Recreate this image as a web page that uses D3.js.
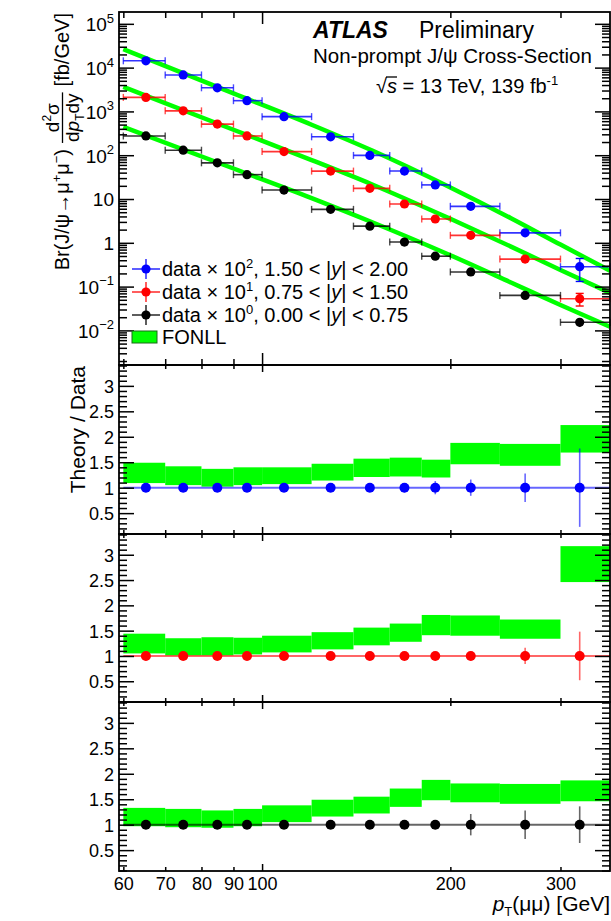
<!DOCTYPE html>
<html>
<head>
<meta charset="utf-8">
<script src="https://cdn.jsdelivr.net/npm/d3@7"></script>
<style>
  body { margin: 0; background: #fff; }
  svg { font-family: "Liberation Sans", Arial, Helvetica, sans-serif; }
</style>
</head>
<body>
<div id="chart"></div>
<script>
// ---- data ----
const binEdges = [60, 70, 80, 90, 100, 120, 140, 160, 180, 200, 240, 300, 360];
const ptMean = [65.2, 74.8, 84.8, 94.6, 108.4, 128.7, 148.7, 168.9, 189.2, 215.6, 263.4, 322];

// cross-sections (already multiplied by 10^2, 10^1, 10^0)
const xsecForward = [14300, 6800, 3460, 1760, 760, 263, 99, 43.5, 21, 6.8, 1.69, 0.285];
const xsecCentral = [2090, 1030, 513, 275, 121, 43.4, 17.5, 7.7, 3.5, 1.48, 0.425, 0.053];
const xsecBarrel  = [275, 130, 67, 36, 16, 5.8, 2.4, 1.04, 0.495, 0.216, 0.063, 0.0153];

// relative uncertainties in the top panel
const errTopForward = [0.03, 0.03, 0.03, 0.03, 0.03, 0.03, 0.04, 0.05, 0.06, 0.10, 0.15, 0.54];
const errTopCentral = [0.03, 0.03, 0.03, 0.03, 0.03, 0.03, 0.03, 0.04, 0.05, 0.07, 0.12, 0.32];
const errTopBarrel  = [0.03, 0.03, 0.03, 0.03, 0.03, 0.03, 0.04, 0.04, 0.05, 0.10, 0.15, 0.22];

// FONLL curves in the top panel
const fonllPt = [60, 90, 120, 150, 200, 250, 300, 360];
const fonllForward = [26400, 2590, 497, 128, 18.4, 3.65, 0.91, 0.23];
const fonllCentral = [3650, 382, 77.6, 21.5, 3.53, 0.82, 0.24, 0.072];
const fonllBarrel  = [445, 49.7, 10.5, 2.95, 0.52, 0.124, 0.038, 0.0121];

// Theory / Data bands (low, high) per bin
const bandForwardLo = [1.09, 1.05, 1.02, 1.05, 1.07, 1.14, 1.21, 1.22, 1.20, 1.46, 1.43, 1.69];
const bandForwardHi = [1.49, 1.42, 1.37, 1.40, 1.40, 1.47, 1.57, 1.59, 1.55, 1.88, 1.86, 2.23];
const bandCentralLo = [1.05, 1.01, 1.01, 1.03, 1.07, 1.13, 1.21, 1.28, 1.41, 1.40, 1.34, 2.46];
const bandCentralHi = [1.44, 1.35, 1.37, 1.36, 1.40, 1.47, 1.56, 1.64, 1.81, 1.80, 1.72, 3.17];
const bandBarrelLo  = [0.97, 0.95, 0.94, 0.97, 1.05, 1.16, 1.22, 1.35, 1.48, 1.44, 1.41, 1.46];
const bandBarrelHi  = [1.33, 1.31, 1.28, 1.31, 1.38, 1.49, 1.55, 1.71, 1.88, 1.81, 1.80, 1.87];

// data uncertainty in the ratio panels
const errRatioForward = [0.02, 0.02, 0.02, 0.02, 0.02, 0.03, 0.04, 0.09, 0.13, 0.16, 0.28, 0.77];
const errRatioCentral = [0.02, 0.02, 0.02, 0.02, 0.02, 0.02, 0.03, 0.04, 0.05, 0.09, 0.16, 0.48];
const errRatioBarrel  = [0.02, 0.02, 0.02, 0.02, 0.02, 0.03, 0.06, 0.05, 0.06, 0.21, 0.28, 0.36];

const scaleExp = ["2", "1", "0"];
const yLow = ["1.50", "0.75", "0.00"];
const yHigh = ["2.00", "1.50", "0.75"];
const colors = ["#0000ff", "#ff0000", "#000000"];

const xTickVals = [60, 70, 80, 90, 100, 200, 300];
const yTopTicks = [1e-2, 1e-1, 1, 10, 1e2, 1e3, 1e4, 1e5];
const yTopLabels = [["10", "\u22122"], ["10", "\u22121"], ["1", ""], ["10", ""], ["10", "2"], ["10", "3"], ["10", "4"], ["10", "5"]];
const ratioTicks = [0.5, 1, 1.5, 2, 2.5, 3];

const series = [
  { xsec: xsecForward, errTop: errTopForward, fonll: fonllForward, lo: bandForwardLo, hi: bandForwardHi, errRatio: errRatioForward },
  { xsec: xsecCentral, errTop: errTopCentral, fonll: fonllCentral, lo: bandCentralLo, hi: bandCentralHi, errRatio: errRatioCentral },
  { xsec: xsecBarrel,  errTop: errTopBarrel,  fonll: fonllBarrel,  lo: bandBarrelLo,  hi: bandBarrelHi,  errRatio: errRatioBarrel }
];

// ---- layout ----
const W = 611, H = 921;
const frameL = 119, frameR = 610;
const topY0 = 12, topY1 = 365;
const ratioPanels = [[365, 534], [534, 702], [702, 871]];
const green = "#00ff00";

const svg = d3.select("#chart").append("svg")
  .attr("width", W).attr("height", H);

const x = d3.scaleLog().domain([59.05, 360]).range([frameL, frameR]);
const yTop = d3.scaleLog().domain([Math.pow(10, -2.79), Math.pow(10, 5.27)]).range([topY1, topY0]);

function styleAxis(g) {
  g.select(".domain").remove();
  g.selectAll(".tick line").attr("stroke", "#000").attr("stroke-width", 1.5);
  g.attr("font-family", null).attr("font-size", null);
}

function drawXTicks(y0, y1, minorLen, majorLen, withLabels) {
  const gb = svg.append("g").attr("transform", `translate(0,${y1})`)
    .call(d3.axisBottom(x).tickValues(xTickVals).tickSize(-minorLen).tickPadding(6)
      .tickFormat(withLabels ? d3.format("d") : ""));
  gb.selectAll(".tick line").filter(d => d === 100).attr("y2", -majorLen);
  styleAxis(gb);
  gb.selectAll(".tick text").attr("font-size", 18).attr("fill", "#000");
  const gt = svg.append("g").attr("transform", `translate(0,${y0})`)
    .call(d3.axisTop(x).tickValues(xTickVals).tickSize(-minorLen).tickFormat(""));
  gt.selectAll(".tick line").filter(d => d === 100).attr("y2", majorLen);
  styleAxis(gt);
}

// ---- top panel ----
const line = d3.line().x(d => x(d[0])).y(d => yTop(d[1])).curve(d3.curveMonotoneX);
series.forEach(s => {
  svg.append("path")
    .attr("d", line(fonllPt.map((p, i) => [p, s.fonll[i]])))
    .attr("fill", "none").attr("stroke", green).attr("stroke-width", 4.5);
});

series.forEach((s, k) => {
  const g = svg.append("g").attr("stroke", colors[k]).attr("fill", colors[k]);
  const pts = ptMean.map((p, i) => ({ i, p, v: s.xsec[i], e: s.errTop[i] }));
  // horizontal bars with caps
  g.selectAll(".hbar").data(pts).join("line")
    .attr("x1", d => x(binEdges[d.i])).attr("x2", d => x(binEdges[d.i + 1]))
    .attr("y1", d => yTop(d.v)).attr("y2", d => yTop(d.v))
    .attr("stroke-width", 1.6).attr("stroke-opacity", 0.8);
  [0, 1].forEach(side => {
    g.selectAll(".cap" + side).data(pts).join("line")
      .attr("x1", d => x(binEdges[d.i + side])).attr("x2", d => x(binEdges[d.i + side]))
      .attr("y1", d => yTop(d.v) - 3.5).attr("y2", d => yTop(d.v) + 3.5)
      .attr("stroke-width", 1.4).attr("stroke-opacity", 0.7);
  });
  // vertical bars
  g.selectAll(".vbar").data(pts).join("line")
    .attr("x1", d => x(d.p)).attr("x2", d => x(d.p))
    .attr("y1", d => yTop(d.v * (1 + d.e))).attr("y2", d => yTop(d.v * (1 - d.e)))
    .attr("stroke-width", 1.6).attr("stroke-opacity", 0.8);
  pts.filter(d => yTop(d.v * (1 - d.e)) - yTop(d.v) > 5).forEach(d => {
    [d.v * (1 + d.e), d.v * (1 - d.e)].forEach(v => {
      g.append("line").attr("x1", x(d.p) - 4).attr("x2", x(d.p) + 4)
        .attr("y1", yTop(v)).attr("y2", yTop(v)).attr("stroke-width", 1.4);
    });
  });
  g.selectAll("circle").data(pts).join("circle")
    .attr("cx", d => x(d.p)).attr("cy", d => yTop(d.v)).attr("r", 4.6).attr("stroke", "none");
});

// top panel frame and ticks
svg.append("rect").attr("x", frameL).attr("y", topY0)
  .attr("width", frameR - frameL).attr("height", topY1 - topY0)
  .attr("fill", "none").attr("stroke", "#000").attr("stroke-width", 1.8);

const minorTop = [];
for (let e = -3; e <= 5; e++) for (let m = 2; m <= 9; m++) {
  const v = m * Math.pow(10, e);
  if (v > yTop.domain()[0] && v < yTop.domain()[1]) minorTop.push(v);
}
const gyl = svg.append("g").attr("transform", `translate(${frameL},0)`)
  .call(d3.axisLeft(yTop).tickValues(yTopTicks).tickSize(-15).tickPadding(5).tickFormat(""));
styleAxis(gyl);
gyl.selectAll(".tick").each(function (d, i) {
  const t = d3.select(this).append("text").attr("x", -5).attr("dy", "0.36em")
    .attr("text-anchor", "end").attr("font-size", 19).attr("fill", "#000");
  t.append("tspan").text(yTopLabels[i][0]);
  if (yTopLabels[i][1]) t.append("tspan").attr("font-size", 13).attr("dy", "-0.65em").text(yTopLabels[i][1]);
});
styleAxis(svg.append("g").attr("transform", `translate(${frameL},0)`)
  .call(d3.axisLeft(yTop).tickValues(minorTop).tickSize(-8).tickFormat("")));
styleAxis(svg.append("g").attr("transform", `translate(${frameR},0)`)
  .call(d3.axisRight(yTop).tickValues(yTopTicks).tickSize(-15).tickFormat("")));
styleAxis(svg.append("g").attr("transform", `translate(${frameR},0)`)
  .call(d3.axisRight(yTop).tickValues(minorTop).tickSize(-8).tickFormat("")));
drawXTicks(topY0, topY1, 6, 12, false);

// ---- ratio panels ----
const minorRatio = d3.range(1, 35).map(v => v / 10).filter(v => Math.abs(v * 2 - Math.round(v * 2)) > 1e-6);
ratioPanels.forEach(([y0, y1], k) => {
  const s = series[k];
  const yR = d3.scaleLinear().domain([0.09, 3.41]).range([y1, y0]);
  const g = svg.append("g");
  g.selectAll("rect").data(s.lo).join("rect")
    .attr("x", (d, i) => x(binEdges[i]))
    .attr("width", (d, i) => x(binEdges[i + 1]) - x(binEdges[i]))
    .attr("y", (d, i) => yR(s.hi[i]))
    .attr("height", (d, i) => yR(d) - yR(s.hi[i]))
    .attr("fill", green);
  g.append("line")
    .attr("x1", x(binEdges[0])).attr("x2", x(binEdges[binEdges.length - 1]))
    .attr("y1", yR(1)).attr("y2", yR(1))
    .attr("stroke", colors[k]).attr("stroke-width", 2).attr("stroke-opacity", 0.6);
  g.selectAll(".ev").data(s.errRatio).join("line")
    .attr("x1", (d, i) => x(ptMean[i])).attr("x2", (d, i) => x(ptMean[i]))
    .attr("y1", d => yR(1 + d)).attr("y2", d => yR(1 - d))
    .attr("stroke", colors[k]).attr("stroke-width", 1.6).attr("stroke-opacity", 0.6);
  g.selectAll("circle").data(ptMean).join("circle")
    .attr("cx", d => x(d)).attr("cy", yR(1)).attr("r", 5).attr("fill", colors[k]);

  svg.append("rect").attr("x", frameL).attr("y", y0)
    .attr("width", frameR - frameL).attr("height", y1 - y0)
    .attr("fill", "none").attr("stroke", "#000").attr("stroke-width", 1.8);

  const gl = svg.append("g").attr("transform", `translate(${frameL},0)`)
    .call(d3.axisLeft(yR).tickValues(ratioTicks).tickSize(-15).tickPadding(5).tickFormat(d3.format("~g")));
  styleAxis(gl);
  gl.selectAll(".tick text").attr("font-size", 18).attr("fill", "#000").attr("dy", "0.36em");
  styleAxis(svg.append("g").attr("transform", `translate(${frameL},0)`)
    .call(d3.axisLeft(yR).tickValues(minorRatio).tickSize(-8).tickFormat("")));
  styleAxis(svg.append("g").attr("transform", `translate(${frameR},0)`)
    .call(d3.axisRight(yR).tickValues(ratioTicks).tickSize(-15).tickFormat("")));
  styleAxis(svg.append("g").attr("transform", `translate(${frameR},0)`)
    .call(d3.axisRight(yR).tickValues(minorRatio).tickSize(-8).tickFormat("")));
  drawXTicks(y0, y1, 4, 7, k === 2);
});

// ---- legend ----
const legY = [269, 292, 315];
series.forEach((s, k) => {
  const cy = legY[k];
  const g = svg.append("g").attr("stroke", colors[k]);
  g.append("line").attr("x1", 132).attr("x2", 160).attr("y1", cy).attr("y2", cy)
    .attr("stroke-width", 1.6).attr("stroke-opacity", 0.8);
  g.append("line").attr("x1", 146).attr("x2", 146).attr("y1", cy - 10).attr("y2", cy + 10)
    .attr("stroke-width", 1.6).attr("stroke-opacity", 0.8);
  g.append("circle").attr("cx", 146).attr("cy", cy).attr("r", 4.6).attr("fill", colors[k]).attr("stroke", "none");
  const t = svg.append("text").attr("x", 162).attr("y", cy + 7).attr("font-size", 20);
  t.append("tspan").text("data \u00d7 10");
  t.append("tspan").attr("font-size", 13).attr("dy", -8).text(scaleExp[k]);
  t.append("tspan").attr("dy", 8).text(", " + yLow[k] + " < |");
  t.append("tspan").attr("font-style", "italic").text("y");
  t.append("tspan").text("| < " + yHigh[k]);
});
svg.append("rect").attr("x", 132).attr("y", 331).attr("width", 25).attr("height", 12)
  .attr("fill", green).attr("stroke", "#1a6b1a").attr("stroke-width", 1);
svg.append("text").attr("x", 162).attr("y", 344).attr("font-size", 20).text("FONLL");

// ---- titles ----
svg.append("text").attr("x", 313).attr("y", 38).attr("font-size", 23)
  .attr("font-weight", "bold").attr("font-style", "italic").text("ATLAS");
svg.append("text").attr("x", 419).attr("y", 38).attr("font-size", 23).text("Preliminary");
svg.append("text").attr("x", 313).attr("y", 63).attr("font-size", 20.5).text("Non-prompt J/\u03c8 Cross-Section");
const sq = svg.append("text").attr("x", 376).attr("y", 93).attr("font-size", 20);
sq.append("tspan").text("\u221a");
sq.append("tspan").attr("font-style", "italic").text("s");
sq.append("tspan").text(" = 13 TeV, 139 fb");
sq.append("tspan").attr("font-size", 13).attr("dy", -8).text("-1");
{
  const n = sq.node();
  const w0 = n.getSubStringLength(0, 1), w1 = n.getSubStringLength(1, 1);
  svg.append("line").attr("x1", 376 + w0 - 1).attr("x2", 376 + w0 + w1)
    .attr("y1", 77).attr("y2", 77).attr("stroke", "#000").attr("stroke-width", 1.3);
}

// y title of the top panel (rotated), built from pieces
{
  const g = svg.append("g").attr("transform", "translate(69,13) rotate(-90)");
  const main1 = g.append("text").attr("font-size", 20);
  main1.append("tspan").text("Br(J/\u03c8\u2192\u03bc");
  main1.append("tspan").attr("font-size", 13).attr("dy", -8).text("+");
  main1.append("tspan").attr("dy", 8).text("\u03bc");
  main1.append("tspan").attr("font-size", 13).attr("dy", -8).text("\u2212");
  main1.append("tspan").attr("dy", 8).text(")");
  const num = g.append("text").attr("font-size", 19).attr("text-anchor", "middle").attr("y", -10);
  num.append("tspan").text("d");
  num.append("tspan").attr("font-size", 12).attr("dy", -8).text("2");
  num.append("tspan").attr("dy", 8).text("\u03c3");
  const den = g.append("text").attr("font-size", 19).attr("text-anchor", "middle").attr("y", 10);
  den.append("tspan").text("d");
  den.append("tspan").attr("font-style", "italic").text("p");
  den.append("tspan").attr("font-size", 12).attr("dy", 5).text("T");
  den.append("tspan").attr("dy", -5).text("dy");
  const main2 = g.append("text").attr("font-size", 20).text("[fb/GeV]");
  const w1 = main1.node().getComputedTextLength();
  const wf = Math.max(num.node().getComputedTextLength(), den.node().getComputedTextLength()) + 2;
  const w3 = main2.node().getComputedTextLength();
  const gap = 6;
  const s0 = -(w1 + gap + wf + gap + w3);
  main1.attr("x", s0);
  num.attr("x", s0 + w1 + gap + wf / 2);
  den.attr("x", s0 + w1 + gap + wf / 2);
  g.append("line").attr("x1", s0 + w1 + gap).attr("x2", s0 + w1 + gap + wf)
    .attr("y1", -6.5).attr("y2", -6.5).attr("stroke", "#000").attr("stroke-width", 1.3);
  main2.attr("x", -w3);
}

svg.append("text").attr("transform", "translate(85,366) rotate(-90)")
  .attr("text-anchor", "end").attr("font-size", 21).text("Theory / Data");

const xl = svg.append("text").attr("x", 610).attr("y", 911).attr("text-anchor", "end").attr("font-size", 21);
xl.append("tspan").attr("font-style", "italic").text("p");
xl.append("tspan").attr("font-size", 13).attr("dy", 5).text("T");
xl.append("tspan").attr("dy", -5).text("(\u03bc\u03bc) [GeV]");
</script>
</body>
</html>
